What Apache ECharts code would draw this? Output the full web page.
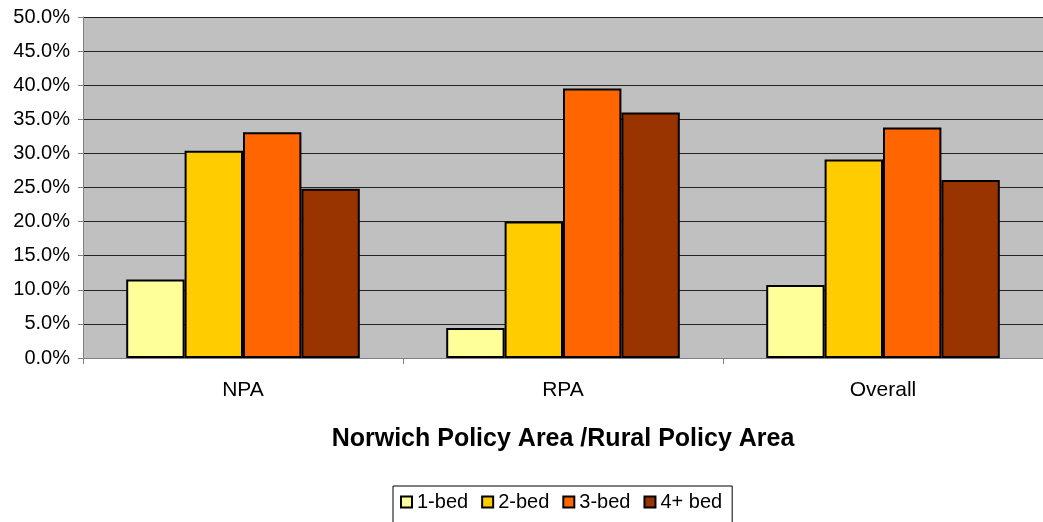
<!DOCTYPE html>
<html>
<head>
<meta charset="utf-8">
<script src="https://cdn.jsdelivr.net/npm/echarts@6/dist/echarts.min.js"></script>
<style>
  html, body { margin: 0; padding: 0; background: #fff; }
  #chart { width: 1043px; height: 522px; }
</style>
</head>
<body>
<div id="chart"></div>
<script>
// Dwelling size mix by policy area (% of dwellings)
const categories = ['NPA', 'RPA', 'Overall'];
const seriesNames = ['1-bed', '2-bed', '3-bed', '4+ bed'];
const oneBed = [11.5, 4.4, 10.7];
const twoBed = [30.4, 20.0, 29.1];
const threeBed = [33.1, 39.5, 33.8];
const fourPlusBed = [24.8, 36.0, 26.1];
const colors = ['#FFFF99', '#FFCC00', '#FF6600', '#993300'];

const values = [oneBed, twoBed, threeBed, fourPlusBed];
const font = 'Liberation Sans, Arial, sans-serif';

const chart = echarts.init(document.getElementById('chart'), null, { renderer: 'canvas' });
chart.setOption({
  animation: false,
  backgroundColor: '#ffffff',
  grid: { left: 83, right: 0, top: 17, bottom: 164, show: true, backgroundColor: '#C0C0C0', borderWidth: 0 },
  legend: {
    data: seriesNames,
    left: 393,
    top: 486,
    itemWidth: 11,
    itemHeight: 11,
    itemGap: 13,
    icon: 'rect',
    borderColor: '#000',
    borderWidth: 1,
    padding: [6, 10, 12, 7],
    textStyle: { fontFamily: font, fontSize: 20, color: '#000', padding: [0, 0, 0, 0] }
  },
  xAxis: {
    type: 'category',
    data: categories,
    name: 'Norwich Policy Area /Rural Policy Area',
    nameLocation: 'middle',
    nameGap: 69,
    nameTextStyle: { fontFamily: font, fontSize: 25, fontWeight: 'bold', color: '#000' },
    axisLine: { lineStyle: { color: '#808080', width: 1 } },
    axisTick: { show: true, length: 6, lineStyle: { color: '#808080' } },
    axisLabel: { fontFamily: font, fontSize: 21, color: '#000', margin: 22 }
  },
  yAxis: {
    type: 'value',
    min: 0,
    max: 50,
    interval: 5,
    axisLine: { show: true, lineStyle: { color: '#808080', width: 1 } },
    axisTick: { show: true, length: 5, lineStyle: { color: '#808080' } },
    axisLabel: { fontFamily: font, fontSize: 20, color: '#000', margin: 13,
      formatter: v => v.toFixed(1) + '%' },
    splitLine: { lineStyle: { color: '#222', width: 1 } }
  },
  series: values.map((d, i) => ({
    name: seriesNames[i],
    type: 'bar',
    data: d,
    barGap: '0%',
    barCategoryGap: '27%',
    itemStyle: { color: colors[i], borderColor: '#000', borderWidth: 2 }
  }))
});
</script>
</body>
</html>
